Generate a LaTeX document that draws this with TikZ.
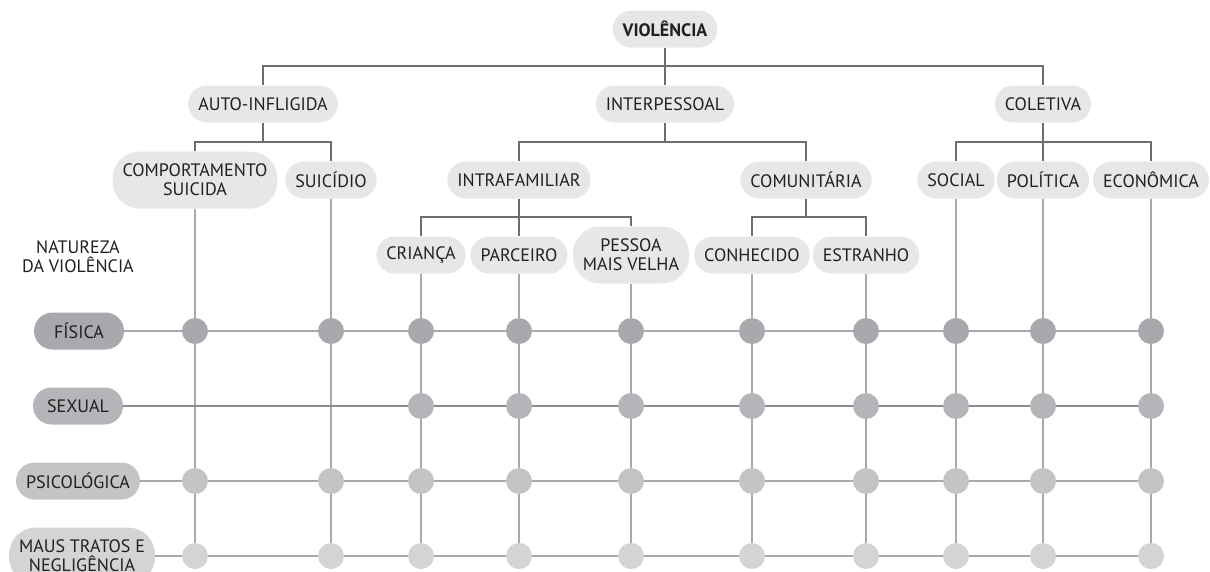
\documentclass[tikz,border=0pt]{standalone}
\usepackage{fontspec}
\setmainfont{PT Sans}
\usetikzlibrary{positioning,backgrounds}
\definecolor{vInk}{HTML}{231F20}
\definecolor{vTree}{HTML}{E6E7E8}
\definecolor{vLine}{HTML}{6D6E71}
\definecolor{vGrid}{HTML}{A7A9AC}
\definecolor{vSexLine}{HTML}{8A8C8F}
\definecolor{vFis}{HTML}{A7A9AC}
\definecolor{vSex}{HTML}{B3B5B8}
\definecolor{vPsi}{HTML}{C2C4C6}
\definecolor{vMau}{HTML}{D3D4D6}
\tikzset{
  pill/.style={rectangle, rounded corners=18.5pt, fill=vTree, text=vInk,
    font=\fontsize{18}{19}\selectfont, minimum height=37pt,
    inner xsep=10pt, inner ysep=0pt, align=center},
  pilltwo/.style={pill, rounded corners=27pt, minimum height=57pt},
}

\begin{document}
\begin{tikzpicture}[
  x=1pt, y=-1pt,
  bar/.style={vLine, line width=1.1pt},
  grid/.style={vGrid, line width=1.4pt},
  dot/.style={circle, inner sep=0pt, minimum size=26pt},
  lbl/.style={text=vInk, font=\fontsize{18}{19}\selectfont, align=center},
  rowpill/.style={pill, minimum width=90pt},
]
\useasboundingbox (0,0) rectangle (1210,571);

% ================================================================ the tree
\node[pill, font=\fontsize{18}{19}\selectfont\bfseries] (viol) at (665,29) {VIOLÊNCIA};
\node[pill] (auto) at (263,104) {AUTO-INFLIGIDA};
\node[pill] (interp) at (665,104) {INTERPESSOAL};
\node[pill] (colet) at (1043,104) {COLETIVA};
% second level
\node[pilltwo] (comp) at (195,180) {COMPORTAMENTO\\SUICIDA};
\node[pill] (suic) at (331,180) {SUICÍDIO};
\node[pill] (intra) at (519,180) {INTRAFAMILIAR};
\node[pill] (comun) at (806,180) {COMUNITÁRIA};
\node[pill] (social) at (956,180) {SOCIAL};
\node[pill] (polit) at (1043,180) {POLÍTICA};
\node[pill] (econ) at (1151,180) {ECONÔMICA};
% third level
\node[pill] (crianca) at (421,255) {CRIANÇA};
\node[pill] (parceiro) at (519,255) {PARCEIRO};
\node[pilltwo] (pessoa) at (631,255) {PESSOA\\MAIS VELHA};
\node[pill] (conhec) at (752,255) {CONHECIDO};
\node[pill] (estranho) at (866,255) {ESTRANHO};

% joints of the bars
\coordinate (j1) at (665,66);
\coordinate (j2a) at (263,142);
\coordinate (j2b) at (665,142);
\coordinate (j2c) at (1043,142);
\coordinate (j3a) at (519,217);
\coordinate (j3b) at (806,217);

\draw[bar] (viol) -- (interp);
\draw[bar] (auto) |- (j1) -| (colet);
\draw[bar] (auto) -- (j2a);
\draw[bar] (comp) |- (j2a) -| (suic);
\draw[bar] (interp) -- (j2b);
\draw[bar] (intra) |- (j2b) -| (comun);
\draw[bar] (colet) -- (polit);
\draw[bar] (social) |- (j2c) -| (econ);
\draw[bar] (intra) -- (parceiro);
\draw[bar] (crianca) |- (j3a) -| (pessoa);
\draw[bar] (comun) -- (j3b);
\draw[bar] (conhec) |- (j3b) -| (estranho);

% ================================================ nature of the violence
\node[lbl] (nat) at (78,257) {NATUREZA\\DA VIOLÊNCIA};
\node[rowpill, fill=vFis] (fis) at (79,331) {FÍSICA};
\node[rowpill, fill=vSex] (sex) at (78,406) {SEXUAL};
\node[rowpill, fill=vPsi] (psi) at (78,481) {PSICOLÓGICA};
\node[pilltwo, fill=vMau] (mau) at (82,556) {MAUS TRATOS E\\NEGLIGÊNCIA};

% dots of the grid
\foreach \c [count=\i] in {comp,suic,crianca,parceiro,pessoa,conhec,estranho,social,polit,econ} {
  \node[dot, fill=vFis] (fis-\i) at (\c |- fis) {};
  \node[dot, fill=vPsi] (psi-\i) at (\c |- psi) {};
  \node[dot, fill=vMau] (mau-\i) at (\c |- mau) {};
}
\foreach \c [count=\i from 3] in {crianca,parceiro,pessoa,conhec,estranho,social,polit,econ} {
  \node[dot, fill=vSex] (sex-\i) at (\c |- sex) {};
}

\begin{scope}[on background layer]
  \foreach \c [count=\i] in {comp,suic,crianca,parceiro,pessoa,conhec,estranho,social,polit,econ} {
    \draw[grid] (\c) -- (mau-\i);}
  \draw[grid] (fis) -- (fis-10);
  \draw[grid, vSexLine] (sex) -- (sex-10);
  \draw[grid] (psi) -- (psi-10);
  \draw[grid] (mau) -- (mau-10);
\end{scope}
\end{tikzpicture}
\end{document}
